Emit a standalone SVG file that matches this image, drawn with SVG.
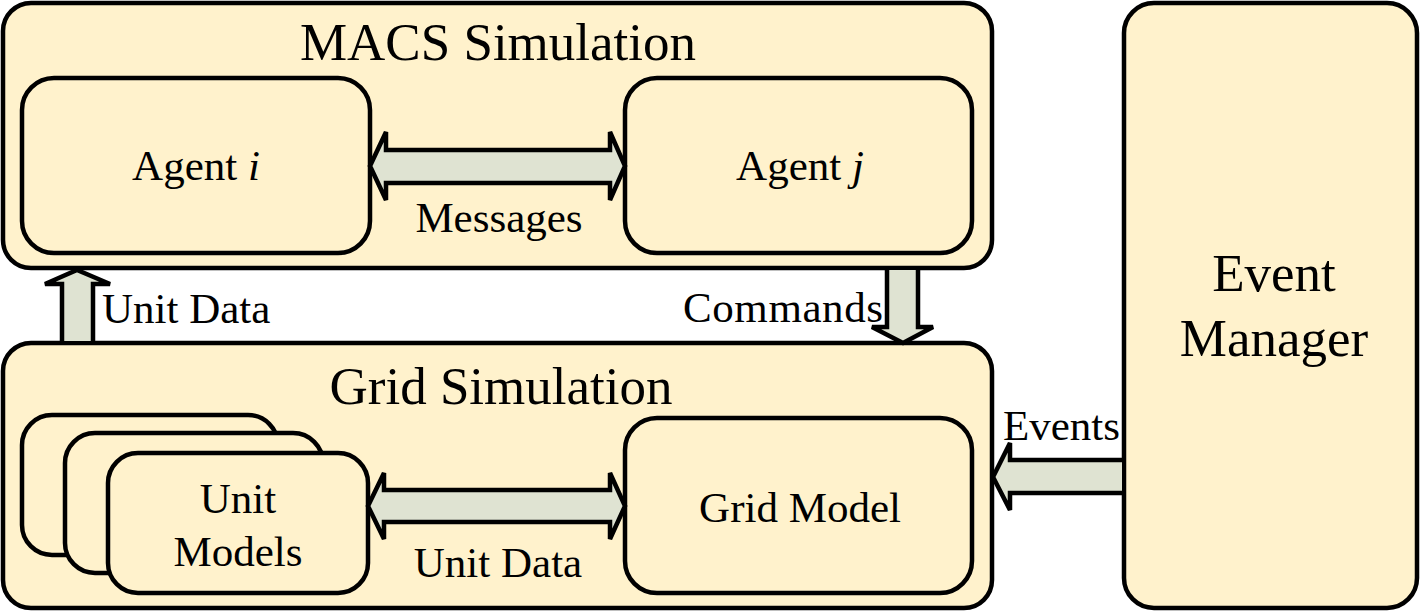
<svg xmlns="http://www.w3.org/2000/svg" width="1421" height="612" viewBox="0 0 1421 612">
<style>
.box{fill:#FFF2CC;stroke:#000;stroke-width:4.5}
.arr{fill:#DFE3D2;stroke:#000;stroke-width:4.5;stroke-linejoin:miter}
text{font-family:"Liberation Serif","Times New Roman",serif;fill:#000}
.big{font-size:53px}
.med{font-size:43px}
</style>
<rect width="1421" height="612" fill="#fff"/>
<g id="macs">
<rect class="box" x="3" y="3" width="989" height="265" rx="28"/>
<text class="big" x="498" y="60" text-anchor="middle">MACS Simulation</text>
</g>
<g id="agent-i">
<rect class="box" x="22" y="78" width="348" height="175" rx="32"/>
<text class="med" x="196" y="180" text-anchor="middle">Agent <tspan font-style="italic">i</tspan></text>
</g>
<g id="agent-j">
<rect class="box" x="625" y="78" width="347" height="175" rx="32"/>
<text class="med" x="800" y="180" text-anchor="middle">Agent <tspan font-style="italic">j</tspan></text>
</g>
<g id="grid">
<rect class="box" x="3" y="343" width="989" height="265" rx="28"/>
<text class="big" x="501" y="404" text-anchor="middle">Grid Simulation</text>
</g>
<g id="unit-models">
<rect class="box" x="22" y="415" width="256" height="140" rx="30"/>
<rect class="box" x="65" y="433" width="258" height="140" rx="30"/>
<rect class="box" x="108" y="453" width="260" height="140" rx="30"/>
<text class="med" x="238" y="513" text-anchor="middle">Unit</text>
<text class="med" x="238" y="566" text-anchor="middle">Models</text>
</g>
<g id="grid-model">
<rect class="box" x="625" y="418" width="347" height="175" rx="32"/>
<text class="med" x="800" y="522" text-anchor="middle">Grid Model</text>
</g>
<g id="event-manager">
<rect class="box" x="1124" y="3" width="293" height="605" rx="30"/>
<text class="big" x="1274" y="291" text-anchor="middle">Event</text>
<text class="big" x="1274" y="356" text-anchor="middle">Manager</text>
</g>
<g id="connectors">
<path class="arr" d="M370,166 L386,132 V150 H610 V132 L625,166 L610,200 V183 H386 V200 Z"/>
<text class="med" x="499" y="232" text-anchor="middle">Messages</text>
<path class="arr" d="M368,506 L384,473 V490 H610 V473 L625,506 L610,539 V522 H384 V539 Z"/>
<text class="med" x="498" y="577" text-anchor="middle">Unit Data</text>
<path class="arr" d="M62,341 V284 H45 L77,270 L110,284 H93 V341"/>
<text class="med" x="102" y="323">Unit Data</text>
<path class="arr" d="M887,270 V327 H872 L903,343 L933,327 H918 V270"/>
<text class="med" x="683" y="322" textLength="200" lengthAdjust="spacing">Commands</text>
<path class="arr" d="M1122,460 H1010 V443 L993,477 L1010,510 V493 H1122"/>
<text class="med" x="1003" y="440">Events</text>
</g>
</svg>
